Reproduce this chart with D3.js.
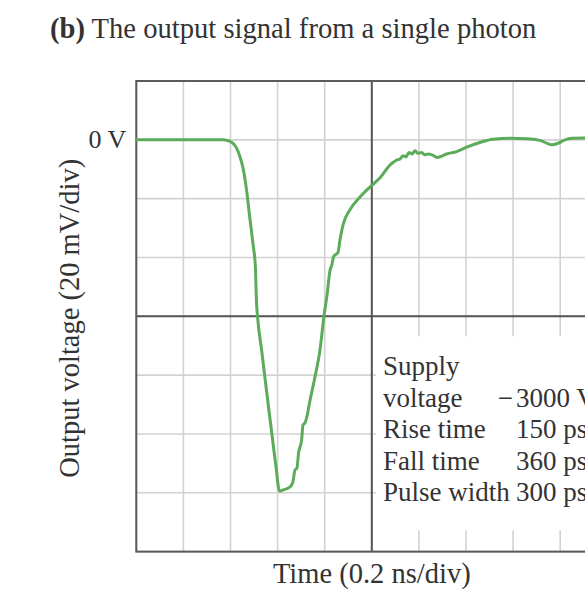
<!DOCTYPE html>
<html>
<head>
<meta charset="utf-8">
<script src="https://cdn.jsdelivr.net/npm/d3@7"></script>
<style>
  html, body { margin: 0; padding: 0; background: #ffffff; }
  svg { display: block; }
  text { font-family: "Liberation Serif", "Times New Roman", serif; fill: #333; }
</style>
</head>
<body>
<svg id="chart" width="585" height="590"></svg>
<script>
// ---- data ----
const title = "The output signal from a single photon";
const titleTag = "(b)";
const xLabel = "Time (0.2 ns/div)";
const yLabel = "Output voltage (20 mV/div)";
const zeroLabel = "0 V";
const xDivision = 0.2;   // ns per division
const yDivision = 20;    // mV per division
const xDomain = [0, 2.0];
const yDomain = [20, -140];
const xCenter = 1.0;
const yCenter = -60;

const timeNs = [0, 0.368, 0.385, 0.402, 0.423, 0.440, 0.453, 0.468, 0.483, 0.496,
  0.506, 0.508, 0.510, 0.515, 0.532, 0.554, 0.575, 0.593, 0.608, 0.624,
  0.653, 0.665, 0.674, 0.682, 0.689, 0.702, 0.708, 0.716, 0.723, 0.738,
  0.759, 0.780, 0.797, 0.810, 0.823, 0.829, 0.839, 0.856, 0.865, 0.879,
  0.907, 0.950, 0.993, 1.035, 1.078, 1.094, 1.107, 1.120, 1.133, 1.145,
  1.158, 1.171, 1.184, 1.196, 1.212, 1.226, 1.239, 1.256, 1.277, 1.318,
  1.360, 1.403, 1.459, 1.515, 1.587, 1.659, 1.714, 1.744, 1.765, 1.790,
  1.820, 1.850, 1.905, 2.0];
const voltageMv = [0, 0, -0.2, -0.7, -2.4, -5.7, -9.5, -17.0, -27.2, -35.7,
  -43.5, -49.3, -54.4, -60.2, -71.4, -86.0, -99.6, -111.1, -119.4, -119.0,
  -118.0, -116.3, -112.2, -111.6, -106.5, -102.0, -96.9, -96.3, -94.6, -88.4,
  -80.5, -71.4, -59.9, -52.7, -44.2, -42.9, -39.5, -38.4, -34.0, -28.6,
  -23.8, -19.4, -16.0, -12.9, -8.5, -7.5, -6.8, -6.5, -5.4, -5.8,
  -4.3, -4.8, -3.7, -4.6, -4.3, -5.1, -4.8, -5.1, -6.0, -4.8,
  -4.0, -2.5, -0.9, 0.2, 0.5, 0.4, -0.2, -1.2, -1.7, -1.2,
  0, 0.5, 0.6, 0.5];

const specLabels = ["Supply", "voltage", "Rise time", "Fall time", "Pulse width"];
const specValues = ["", "3000 V", "150 ps", "360 ps", "300 ps"];
const specSigns  = ["", "\u2212", "", "", ""];

// ---- layout ----
const svg = d3.select("#chart");
const plotLeft = 136.3, plotTop = 81, divW = 47.1, divH = 58.83;
const x = d3.scaleLinear().domain(xDomain).range([plotLeft, plotLeft + divW * (xDomain[1] - xDomain[0]) / xDivision]);
const y = d3.scaleLinear().domain(yDomain).range([plotTop, plotTop + divH * (yDomain[0] - yDomain[1]) / yDivision]);

const xTicks = d3.range(xDomain[0], xDomain[1] + 1e-9, xDivision);
const yTicks = d3.range(yDomain[1], yDomain[0] + 1e-9, yDivision);

const g = svg.append("g");
// grid
g.selectAll(".vg").data(xTicks).enter().append("line")
  .attr("x1", d => x(d)).attr("x2", d => x(d))
  .attr("y1", y(yDomain[0])).attr("y2", y(yDomain[1]))
  .attr("stroke", "#d2d2d2").attr("stroke-width", 1.6);
g.selectAll(".hg").data(yTicks).enter().append("line")
  .attr("y1", d => y(d)).attr("y2", d => y(d))
  .attr("x1", x(xDomain[0])).attr("x2", x(xDomain[1]))
  .attr("stroke", "#d2d2d2").attr("stroke-width", 1.6);

// white box for text (lower right)
g.append("rect")
  .attr("x", x(xCenter) + 4).attr("y", y(yCenter) + 20)
  .attr("width", 300).attr("height", 194)
  .attr("fill", "#fff");

// center axes
g.append("line").attr("x1", x(xCenter)).attr("x2", x(xCenter))
  .attr("y1", y(yDomain[0])).attr("y2", y(yDomain[1]))
  .attr("stroke", "#555").attr("stroke-width", 2);
g.append("line").attr("y1", y(yCenter)).attr("y2", y(yCenter))
  .attr("x1", x(xDomain[0])).attr("x2", x(xDomain[1]))
  .attr("stroke", "#555").attr("stroke-width", 2);

// frame
g.append("rect")
  .attr("x", x(xDomain[0])).attr("y", y(yDomain[0]))
  .attr("width", x(xDomain[1]) - x(xDomain[0]))
  .attr("height", y(yDomain[1]) - y(yDomain[0]))
  .attr("fill", "none").attr("stroke", "#5a5a5a").attr("stroke-width", 2);

// trace
const pts = timeNs.map((t, i) => [t, voltageMv[i]]);
const line = d3.line().x(d => x(d[0])).y(d => y(d[1])).curve(d3.curveMonotoneX);
g.append("path").attr("d", line(pts))
  .attr("fill", "none").attr("stroke", "#5bab5b").attr("stroke-width", 3)
  .attr("stroke-linejoin", "round").attr("stroke-linecap", "round");

// labels
svg.append("text").attr("x", 50).attr("y", 38).attr("font-size", 28.6)
  .call(t => {
    t.append("tspan").attr("font-weight", "bold").text(titleTag);
    t.append("tspan").text(" " + title);
  });
svg.append("text").attr("x", x(xDomain[0]) - 10).attr("y", y(0) + 8)
  .attr("text-anchor", "end").attr("font-size", 26).text(zeroLabel);
svg.append("text").attr("transform", `translate(79,${y(yCenter) + 2}) rotate(-90)`)
  .attr("text-anchor", "middle").attr("font-size", 28.5).text(yLabel);
svg.append("text").attr("x", x(xCenter)).attr("y", 583)
  .attr("text-anchor", "middle").attr("font-size", 28.5).text(xLabel);

// spec table
const tx = 383, col = 516, base0 = 375, lh = 31.6;
specLabels.forEach((lab, i) => {
  svg.append("text").attr("x", tx).attr("y", base0 + i * lh).attr("font-size", 27).text(lab);
  if (specValues[i]) svg.append("text").attr("x", col).attr("y", base0 + i * lh).attr("font-size", 27).text(specValues[i]);
  if (specSigns[i]) svg.append("text").attr("x", col - 3).attr("y", base0 + i * lh)
    .attr("text-anchor", "end").attr("font-size", 27).text(specSigns[i]);
});
</script>
</body>
</html>
